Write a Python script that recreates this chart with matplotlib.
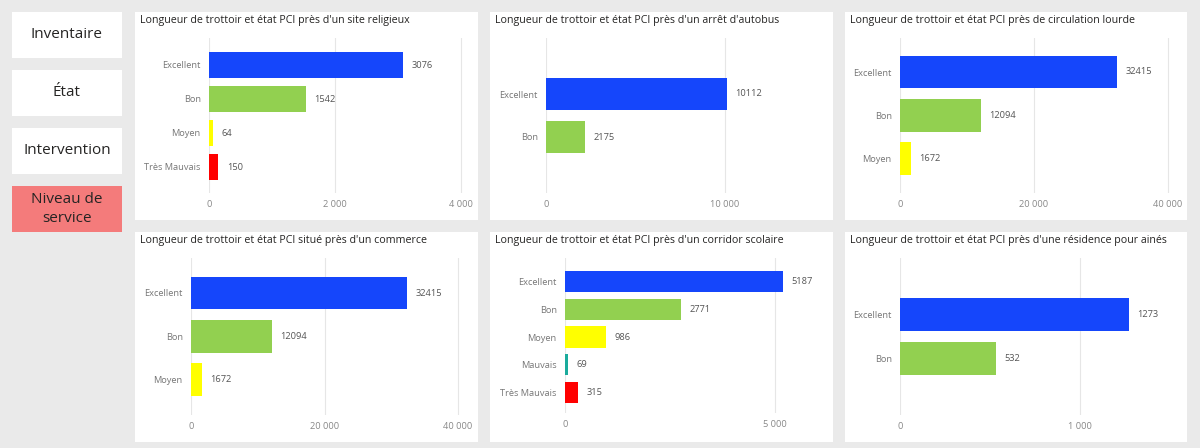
import matplotlib.pyplot as plt
from matplotlib.patches import Rectangle
from matplotlib.ticker import FuncFormatter

plt.rcParams['font.family'] = ['Open Sans', 'DejaVu Sans']

menu_labels = ["Inventaire", "État", "Intervention", "Niveau de\nservice"]

titles = [
    "Longueur de trottoir et état PCI près d'un site religieux",
    "Longueur de trottoir et état PCI près d'un arrêt d'autobus",
    "Longueur de trottoir et état PCI près de circulation lourde",
    "Longueur de trottoir et état PCI situé près d'un commerce",
    "Longueur de trottoir et état PCI près d'un corridor scolaire",
    "Longueur de trottoir et état PCI près d'une résidence pour ainés",
]

cat_religieux = ["Excellent", "Bon", "Moyen", "Très Mauvais"]
val_religieux = [3076, 1542, 64, 150]

cat_autobus = ["Excellent", "Bon"]
val_autobus = [10112, 2175]

cat_circulation = ["Excellent", "Bon", "Moyen"]
val_circulation = [32415, 12094, 1672]

cat_commerce = ["Excellent", "Bon", "Moyen"]
val_commerce = [32415, 12094, 1672]

cat_scolaire = ["Excellent", "Bon", "Moyen", "Mauvais", "Très Mauvais"]
val_scolaire = [5187, 2771, 986, 69, 315]

cat_aines = ["Excellent", "Bon"]
val_aines = [1273, 532]

ticks_religieux = [0, 2000, 4000]
ticks_autobus = [0, 10000]
ticks_circulation = [0, 20000, 40000]
ticks_commerce = [0, 20000, 40000]
ticks_scolaire = [0, 5000]
ticks_aines = [0, 1000]

state_colors = {
    "Excellent": "#1546fb",
    "Bon": "#92d050",
    "Moyen": "#ffff00",
    "Mauvais": "#1aab9c",
    "Très Mauvais": "#ff0000",
}

W, H = 1200, 448
fig = plt.figure(figsize=(W / 100, H / 100), dpi=100)
fig.patch.set_facecolor("#eaeaea")


def fx(x):
    return x / W


def fy(y):
    return 1 - y / H


def box(x, y, w, h, color):
    fig.add_artist(Rectangle((fx(x), fy(y + h)), w / W, h / H,
                             transform=fig.transFigure, facecolor=color,
                             edgecolor="none", zorder=0))


# left menu
menu_y = [12, 70, 128, 186]
for i, (lab, y) in enumerate(zip(menu_labels, menu_y)):
    active = i == 3
    box(12, y, 110, 46, "#f47b7b" if active else "white")
    fig.text(fx(67), fy(y + 23), lab, ha="center", va="center",
             fontsize=11, color="#252423", linespacing=1.3)

# panel layout in pixels: panel rect, plot x0, (tick value, tick px), grid top/bottom, first centre, step
layout = [
    ((135, 12, 343, 208), 209, (4000, 461), 38, 193, 65, 34),
    ((490, 12, 343, 208), 546, (10000, 725), 38, 193, 94, 43),
    ((845, 12, 342, 208), 900, (40000, 1168), 38, 193, 72, 43.3),
    ((135, 232, 343, 210), 191, (40000, 458), 258, 415, 293, 43.3),
    ((490, 232, 343, 210), 565, (5000, 775), 258, 413, 281.5, 27.75),
    ((845, 232, 342, 210), 900, (1000, 1080), 258, 415, 314.5, 44),
]

cats = [cat_religieux, cat_autobus, cat_circulation, cat_commerce, cat_scolaire, cat_aines]
vals = [val_religieux, val_autobus, val_circulation, val_commerce, val_scolaire, val_aines]
ticks = [ticks_religieux, ticks_autobus, ticks_circulation, ticks_commerce, ticks_scolaire, ticks_aines]

fmt = FuncFormatter(lambda v, p: f"{int(v):,}".replace(",", " "))

for k in range(6):
    (px, py, pw, ph), x0, (tv, tpx), gt, gb, c0, step = layout[k]
    box(px, py, pw, ph, "white")
    fig.text(fx(px + 5), fy(py + 8), titles[k], ha="left", va="center",
             fontsize=7.65, color="#252423")

    xr = px + pw - 8
    scale = (tpx - x0) / tv
    ax = fig.add_axes([fx(x0), fy(gb), (xr - x0) / W, (gb - gt) / H])
    ax.set_facecolor("none")
    ax.set_xlim(0, (xr - x0) / scale)
    ax.set_ylim((gb - c0) / step, (gt - c0) / step)

    ypos = list(range(len(cats[k])))
    bars = ax.barh(ypos, vals[k], height=0.76,
                   color=[state_colors[c] for c in cats[k]], zorder=2)
    for b, v in zip(bars, vals[k]):
        ax.annotate(str(v), (b.get_width(), b.get_y() + b.get_height() / 2),
                    xytext=(6, 0), textcoords="offset points",
                    ha="left", va="center", fontsize=6.7, color="#555555")

    ax.set_yticks(ypos)
    ax.set_yticklabels(cats[k])
    ax.set_xticks(ticks[k])
    ax.xaxis.set_major_formatter(fmt)
    ax.tick_params(axis="y", length=0, pad=6, labelsize=6.7, labelcolor="#777777")
    ax.tick_params(axis="x", length=0, pad=5, labelsize=6.7, labelcolor="#888888")
    ax.grid(axis="x", color="#e6e6e6", linewidth=0.8, zorder=0)
    ax.set_axisbelow(True)
    for s in ax.spines.values():
        s.set_visible(False)

plt.savefig("out.png", dpi=100, facecolor=fig.get_facecolor())
